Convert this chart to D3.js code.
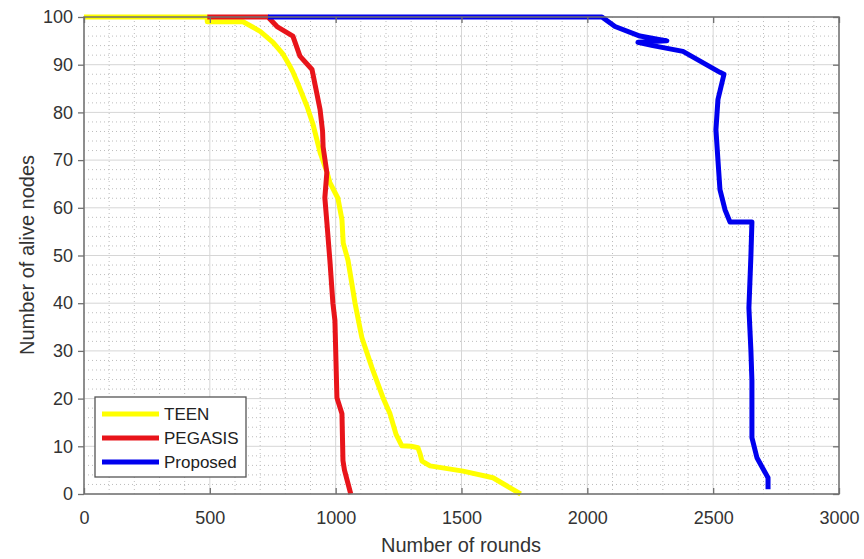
<!DOCTYPE html>
<html><head><meta charset="utf-8">
<script src="https://cdn.jsdelivr.net/npm/d3@7"></script>
<style>body{margin:0;background:#fff}svg{display:block;font-family:"Liberation Sans",Arial,sans-serif}</style>
</head><body><svg id="c" width="864" height="559"></svg>
<script>
const seriesNames = ["TEEN", "PEGASIS", "Proposed"];
const seriesColors = ["#ffff00", "#e8141a", "#0000ee"];
const xTicks = [0, 500, 1000, 1500, 2000, 2500, 3000];
const yTicks = [0, 10, 20, 30, 40, 50, 60, 70, 80, 90, 100];
const teen = [[0,100],[489,100],[490,99],[632,99],[700,97],[751,94.7],[791,92.2],[815,90],[830,88.5],[850,86],[886,81.3],[910,77.5],[938,71.6],[965,67.5],[977,65.3],[1009,62],[1025,57.5],[1030,52.6],[1049,49],[1077,40],[1104,32.8],[1144,26.5],[1188,20.2],[1216,16.8],[1240,12.5],[1263,10.1],[1300,10],[1327,9.7],[1335,8.5],[1343,6.9],[1375,5.9],[1506,4.8],[1625,3.4],[1735,0]];
const pegasis = [[490,100],[731,100],[767,98],[830,96],[858,91.8],[906,89],[925,84],[938,80.6],[948,76],[950,72.8],[965,67.4],[957,62.1],[965,57],[977,49],[989,40],[997,36.4],[1005,20.2],[1025,16.8],[1029,7],[1035,5],[1060,0]];
const proposed = [[731,100],[2058,100],[2110,98],[2209,96],[2316,95],[2201,94.7],[2260,94],[2380,92.8],[2527,88.4],[2543,88],[2519,82.7],[2511,76.4],[2519,70],[2527,63.8],[2547,59.6],[2567,57],[2579,57],[2654,57],[2650,50],[2642,39],[2650,30],[2654,23.8],[2654,11.8],[2674,7.6],[2718,3.4],[2718,1]];
const allSeries = [teen, pegasis, proposed];

const svg = d3.select("#c");
const L = 84, R = 839, T = 17, B = 494;
const x = d3.scaleLinear().domain([0, 3000]).range([L, R]);
const y = d3.scaleLinear().domain([0, 100]).range([B, T]);

// minor grid
const xMinor = d3.range(0, 3001, 100).filter(v => v % 500 !== 0);
const yMinor = d3.range(0, 101, 2).filter(v => v % 10 !== 0);
const g = svg.append("g");
g.selectAll(".xm").data(xMinor).enter().append("line")
  .attr("x1", d => x(d)).attr("x2", d => x(d)).attr("y1", T).attr("y2", B)
  .attr("stroke", "#bdbdbd").attr("stroke-width", 1).attr("stroke-dasharray", "1,3");
g.selectAll(".ym").data(yMinor).enter().append("line")
  .attr("y1", d => y(d)).attr("y2", d => y(d)).attr("x1", L).attr("x2", R)
  .attr("stroke", "#bdbdbd").attr("stroke-width", 1).attr("stroke-dasharray", "1,3");
// major grid
g.selectAll(".xg").data(xTicks).enter().append("line")
  .attr("x1", d => x(d)).attr("x2", d => x(d)).attr("y1", T).attr("y2", B)
  .attr("stroke", "#d6d6d6").attr("stroke-width", 1);
g.selectAll(".yg").data(yTicks).enter().append("line")
  .attr("y1", d => y(d)).attr("y2", d => y(d)).attr("x1", L).attr("x2", R)
  .attr("stroke", "#d6d6d6").attr("stroke-width", 1);

// lines
const line = d3.line().x(d => x(d[0])).y(d => y(d[1]));
allSeries.forEach((s, i) => {
  svg.append("path").datum(s).attr("d", line).attr("fill", "none")
    .attr("stroke", seriesColors[i]).attr("stroke-width", 5)
    .attr("stroke-linejoin", "round").attr("stroke-linecap", "butt");
});

// frame
const axCol = "#707070";
svg.append("rect").attr("x", L).attr("y", T).attr("width", R - L).attr("height", B - T)
  .attr("fill", "none").attr("stroke", axCol).attr("stroke-width", 1.5);

// axes via d3
const fmt = d3.format("d");
const xAxis = svg.append("g").attr("transform", `translate(0,${B})`)
  .call(d3.axisBottom(x).tickValues(xTicks).tickFormat(fmt).tickSizeInner(-6).tickSizeOuter(0).tickPadding(17));
const xAxisTop = svg.append("g").attr("transform", `translate(0,${T})`)
  .call(d3.axisTop(x).tickValues(xTicks).tickSizeInner(-6).tickSizeOuter(0).tickFormat(""));
const yAxis = svg.append("g").attr("transform", `translate(${L},0)`)
  .call(d3.axisLeft(y).tickValues(yTicks).tickFormat(fmt).tickSizeInner(6).tickSizeOuter(0).tickPadding(5));
const yAxisR = svg.append("g").attr("transform", `translate(${R},0)`)
  .call(d3.axisRight(y).tickValues(yTicks).tickSizeInner(-6).tickSizeOuter(0).tickFormat(""));
[xAxis, xAxisTop, yAxis, yAxisR].forEach(a => {
  a.select(".domain").remove();
  a.selectAll(".tick line").attr("stroke", axCol).attr("stroke-width", 1.3);
  a.selectAll(".tick text").attr("fill", "#333").style("font-size", "18px")
    .style("font-family", '"Liberation Sans", Arial, sans-serif');
});

// axis labels
svg.append("text").attr("x", 461).attr("y", 552).attr("text-anchor", "middle")
  .attr("fill", "#333").style("font-size", "20px").text("Number of rounds");
svg.append("text").attr("transform", "translate(34,255) rotate(-90)").attr("text-anchor", "middle")
  .attr("fill", "#333").style("font-size", "20px").text("Number of alive nodes");

// legend
const lg = svg.append("g");
lg.append("rect").attr("x", 95).attr("y", 397).attr("width", 151).attr("height", 80)
  .attr("fill", "#fff").attr("stroke", "#555").attr("stroke-width", 1.3);
seriesNames.forEach((n, i) => {
  const yy = 414 + i * 24;
  lg.append("line").attr("x1", 102).attr("x2", 159).attr("y1", yy).attr("y2", yy)
    .attr("stroke", seriesColors[i]).attr("stroke-width", 5);
  lg.append("text").attr("x", 164).attr("y", yy).attr("dy", "0.36em")
    .attr("fill", "#222").style("font-size", "17px").text(n);
});
</script></body></html>
